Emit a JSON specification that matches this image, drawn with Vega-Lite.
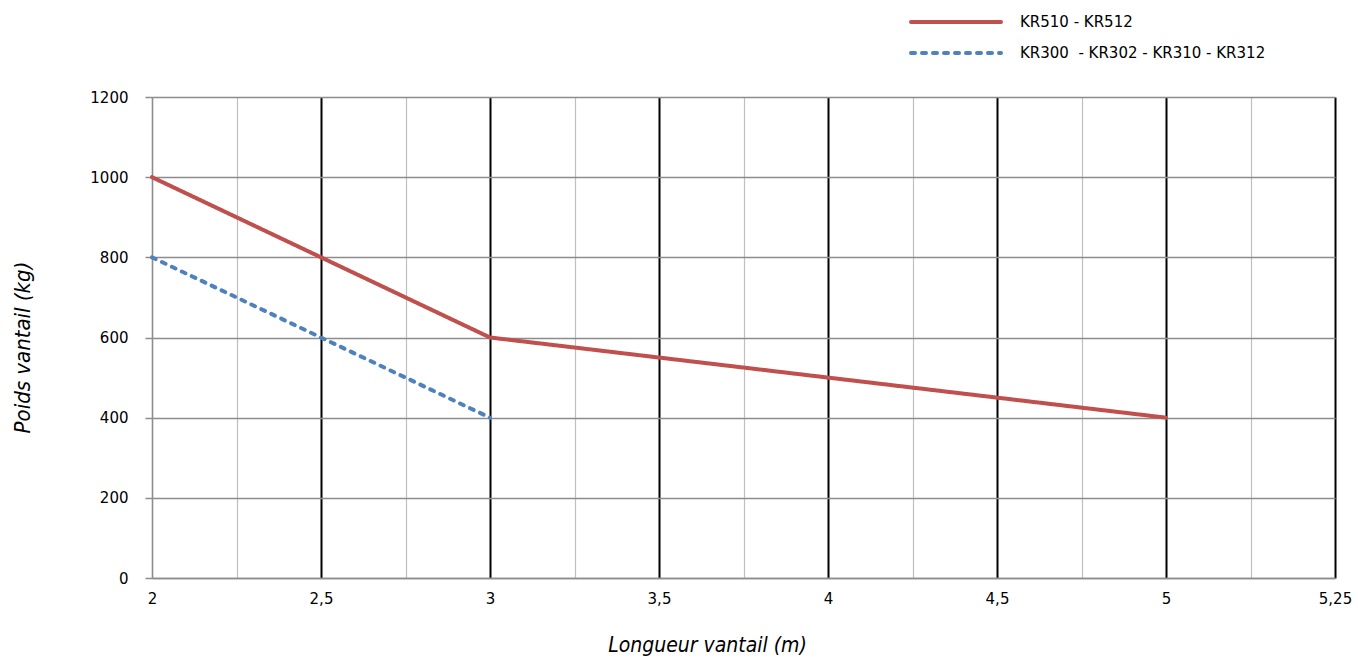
{
  "$schema": "https://vega.github.io/schema/vega-lite/v6.json",
  "width": 1183,
  "height": 481,
  "autosize": {"type": "none"},
  "padding": {"left": 152, "top": 97, "right": 23, "bottom": 81},
  "background": "white",
  "config": {"view": {"stroke": null}, "font": "DejaVu Sans"},
  "data": {
    "values": [
      {"serie": "KR510 - KR512", "longueur": 2, "poids": 1000},
      {"serie": "KR510 - KR512", "longueur": 2.5, "poids": 800},
      {"serie": "KR510 - KR512", "longueur": 3, "poids": 600},
      {"serie": "KR510 - KR512", "longueur": 3.5, "poids": 550},
      {"serie": "KR510 - KR512", "longueur": 4, "poids": 500},
      {"serie": "KR510 - KR512", "longueur": 4.5, "poids": 450},
      {"serie": "KR510 - KR512", "longueur": 5, "poids": 400},
      {"serie": "KR300\u00a0 - KR302 - KR310 - KR312", "longueur": 2, "poids": 800},
      {"serie": "KR300\u00a0 - KR302 - KR310 - KR312", "longueur": 2.5, "poids": 600},
      {"serie": "KR300\u00a0 - KR302 - KR310 - KR312", "longueur": 3, "poids": 400}
    ]
  },
  "mark": {"type": "line", "strokeWidth": 4, "strokeCap": "round"},
  "encoding": {
    "x": {
      "field": "longueur",
      "type": "quantitative",
      "scale": {"domain": [2, 5.5], "nice": false, "zero": false},
      "axis": {
        "values": [2, 2.25, 2.5, 2.75, 3, 3.25, 3.5, 3.75, 4, 4.25, 4.5, 4.75, 5, 5.25, 5.5],
        "labelExpr": "datum.value == 5.5 ? '5,25' : (datum.value % 0.5 == 0 ? replace('' + datum.value, '.', ',') : '')",
        "ticks": false,
        "labelPadding": 13,
        "labelFontSize": 15,
        "labelColor": "black",
        "labelFlush": false,
        "labelOverlap": false,
        "domainColor": "#8c8c8c",
        "domainWidth": 1.5,
        "gridColor": {"condition": {"test": "datum.value > 2 && datum.value % 0.5 == 0", "value": "black"}, "value": "#bfbfbf"},
        "gridWidth": {"condition": {"test": "datum.value > 2 && datum.value % 0.5 == 0", "value": 2}, "value": 1.2},
        "gridOpacity": 1,
        "title": "Longueur vantail (m)",
        "titleFont": "DejaVu Sans Condensed",
        "titleFontStyle": "italic",
        "titleFontWeight": "normal",
        "titleFontSize": 21,
        "titleColor": "black",
        "titleX": 555,
        "titleY": 67,
        "titleBaseline": "middle"
      }
    },
    "y": {
      "field": "poids",
      "type": "quantitative",
      "scale": {"domain": [0, 1200], "nice": false},
      "axis": {
        "values": [0, 200, 400, 600, 800, 1000, 1200],
        "format": "d",
        "tickSize": 7,
        "tickColor": "#8c8c8c",
        "tickWidth": 1.5,
        "labelPadding": 17,
        "labelFontSize": 15,
        "labelColor": "black",
        "labelFlush": false,
        "domainColor": "#8c8c8c",
        "domainWidth": 1.5,
        "gridColor": "#8c8c8c",
        "gridWidth": 1.5,
        "gridOpacity": 1,
        "title": "Poids vantail (kg)",
        "titleFont": "DejaVu Sans Condensed",
        "titleFontStyle": "italic",
        "titleFontWeight": "normal",
        "titleFontSize": 22,
        "titleColor": "black",
        "titleX": -130,
        "titleY": 250,
        "titleBaseline": "middle"
      }
    },
    "color": {
      "field": "serie",
      "type": "nominal",
      "scale": {"domain": ["KR510 - KR512", "KR300\u00a0 - KR302 - KR310 - KR312"], "range": ["#C0504D", "#4F81BD"]},
      "legend": {
        "orient": "none",
        "legendX": 787,
        "legendY": -92,
        "title": null,
        "symbolType": "M-3,0H3",
        "symbolSize": 900,
        "symbolStrokeWidth": 4,
        "labelFontSize": 15,
        "labelColor": "black",
        "labelOffset": 47,
        "labelLimit": 400,
        "rowPadding": 6,
        "encode": {"symbols": {"update": {"strokeCap": {"value": "round"}}}}
      }
    },
    "strokeDash": {
      "field": "serie",
      "type": "nominal",
      "scale": {"domain": ["KR510 - KR512", "KR300\u00a0 - KR302 - KR310 - KR312"], "range": [[1, 0], [4, 7]]},
      "legend": {
        "orient": "none",
        "legendX": 787,
        "legendY": -92,
        "title": null,
        "symbolType": "M-3,0H3",
        "symbolSize": 900,
        "symbolStrokeWidth": 4,
        "labelFontSize": 15,
        "labelColor": "black",
        "labelOffset": 47,
        "labelLimit": 400,
        "rowPadding": 6,
        "encode": {"symbols": {"update": {"strokeCap": {"value": "round"}}}}
      }
    }
  }
}
